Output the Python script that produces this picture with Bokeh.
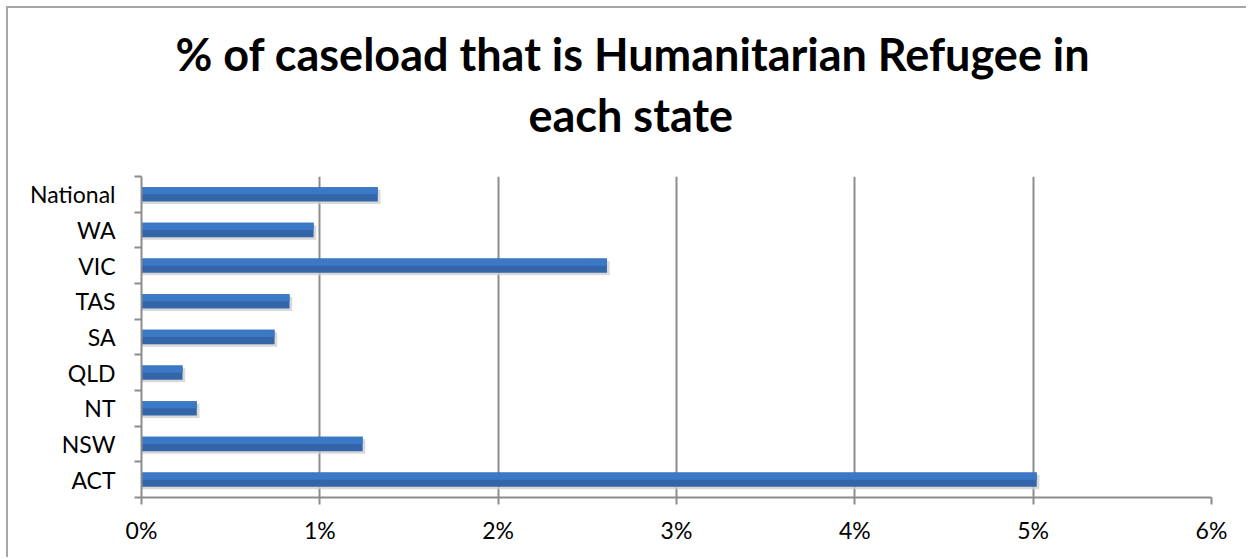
from bokeh.plotting import figure
from bokeh.models import FixedTicker, Title, Range1d
from bokeh.embed import file_html
from bokeh.resources import INLINE

states = ["ACT", "NSW", "NT", "QLD", "SA", "TAS", "VIC", "WA", "National"]
share = [5.02, 1.24, 0.31, 0.23, 0.746, 0.83, 2.61, 0.965, 1.325]
xticks = [0, 1, 2, 3, 4, 5, 6]
xlabels = ["0%", "1%", "2%", "3%", "4%", "5%", "6%"]
title_lines = ["% of caseload that is Humanitarian Refugee in", "each state"]

FONT = "Lato"
OFF = 8
FL, FR, FT, FB = 141, 1211, 176, 497
p = figure(width=1240, height=551, output_backend="svg", toolbar_location=None,
           x_range=Range1d(0, 6), y_range=Range1d(0, len(states)),
           min_border_left=FL - OFF, min_border_right=1248 - FR,
           min_border_top=FT - OFF, min_border_bottom=559 - FB)
p.styles = {"margin-left": "6px", "margin-top": "6px",
            "border-left": "2px solid #a6a6a6", "border-top": "2px solid #a6a6a6"}
p.outline_line_color = None

ys = [i + 0.5 for i in range(len(states))]
h = 0.4
# shadow
p.hbar(y=[y - 0.07 for y in ys], left=0, right=[s + 0.015 for s in share], height=h,
       fill_color="#cfcfcf", line_color=None, fill_alpha=0.8)
p.hbar(y=ys, left=0, right=share, height=h, fill_color="#3465a8", line_color=None)
p.hbar(y=[y + h / 4 for y in ys], left=0, right=share, height=h / 2,
       fill_color="#3b78c6", line_color=None)

p.xaxis.ticker = FixedTicker(ticks=xticks)
p.xaxis.major_label_overrides = {t: l for t, l in zip(xticks, xlabels)}
p.xaxis.major_tick_out = 7
p.xaxis.major_tick_in = 0
p.xaxis.axis_line_color = "#8c8c8c"
p.xaxis.major_tick_line_color = "#8c8c8c"
p.xaxis.axis_line_width = 2
p.xaxis.major_tick_line_width = 2
p.xaxis.major_label_text_font = FONT
p.xaxis.major_label_text_font_size = "23px"
p.xaxis.major_label_text_color = "black"
p.xaxis.major_label_standoff = 11

p.yaxis.ticker = FixedTicker(ticks=ys, minor_ticks=list(range(len(states) + 1)))
p.yaxis.major_label_overrides = {y: s for y, s in zip(ys, states)}
p.yaxis.major_tick_out = 0
p.yaxis.major_tick_in = 0
p.yaxis.minor_tick_out = 7
p.yaxis.minor_tick_in = 0
p.yaxis.axis_line_color = "#8c8c8c"
p.yaxis.minor_tick_line_color = "#8c8c8c"
p.yaxis.axis_line_width = 2
p.yaxis.minor_tick_line_width = 2
p.yaxis.major_label_text_font = FONT
p.yaxis.major_label_text_font_size = "23px"
p.yaxis.major_label_text_color = "black"
p.yaxis.major_label_standoff = 19

p.ygrid.grid_line_color = None
p.xgrid.grid_line_color = "#8c8c8c"
p.xgrid.grid_line_width = 2

p.title.visible = False
# spacer between the plot area and the title
p.add_layout(Title(text=" ", text_font_size="25px", standoff=0), "above")
for t, off, so in zip(reversed(title_lines), [387, 34], [10, 0]):
    p.add_layout(Title(text=t, align="left", offset=off, text_font=FONT,
                       text_font_style="bold", text_font_size="45px",
                       text_color="black", standoff=so), "above")

open("out.html", "w").write(file_html(p, INLINE))
